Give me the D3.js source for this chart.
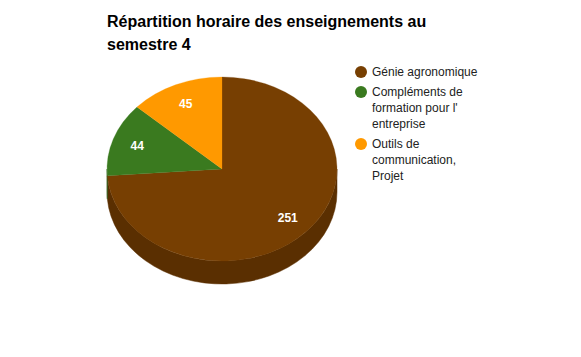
<!DOCTYPE html>
<html><head><meta charset="utf-8">
<script src="https://cdn.jsdelivr.net/npm/d3@7"></script>
<style>body{margin:0;background:#fff}svg{display:block}text{font-family:"Liberation Sans",Arial,sans-serif}</style>
</head><body><svg id="c" width="581" height="357"></svg>
<script>
const categories = ["Génie agronomique", "Compléments de formation pour l' entreprise", "Outils de communication, Projet"];
const values = [251, 44, 45];
const legendLines = [["Génie agronomique"], ["Compléments de", "formation pour l'", "entreprise"], ["Outils de", "communication,", "Projet"]];
const colors = ["#773f02", "#3a7a1f", "#ff9900"];
const sideColors = ["#5a2f01", "#2b5c17", "#bf7300"];
const titleLines = ["Répartition horaire des enseignements au", "semestre 4"];

const svg = d3.select("#c");
const cx = 222, cy = 169, rx = 115, ry = 92, depth = 23;

svg.selectAll("text.title").data(titleLines).join("text")
  .attr("class","title").attr("x",107).attr("y",(d,i)=>27+i*23)
  .attr("font-size",16).attr("font-weight","bold").attr("fill","#000").text(d=>d);

const pie = d3.pie().sort(null).value(d=>d)(values);
const P = a => [cx + rx*Math.sin(a), cy - ry*Math.cos(a)];

// sides (front half: angles between PI/2 and 3PI/2)
const sides = svg.append("g");
pie.forEach((s,i)=>{
  const a0 = Math.max(s.startAngle, Math.PI/2), a1 = Math.min(s.endAngle, 3*Math.PI/2);
  if (a1 <= a0) return;
  const p0 = P(a0), p1 = P(a1);
  const large = (a1-a0) > Math.PI ? 1 : 0;
  const d = `M${p0[0]},${p0[1]} A${rx},${ry} 0 ${large} 1 ${p1[0]},${p1[1]} L${p1[0]},${p1[1]+depth} A${rx},${ry} 0 ${large} 0 ${p0[0]},${p0[1]+depth} Z`;
  sides.append("path").attr("d",d).attr("fill",sideColors[i]).attr("stroke",sideColors[i]).attr("stroke-width",0.5);
});

// top faces
const arc = d3.arc().innerRadius(0).outerRadius(rx);
svg.append("g").attr("transform",`translate(${cx},${cy}) scale(1,${ry/rx})`)
  .selectAll("path").data(pie).join("path")
  .attr("d",arc).attr("fill",(d,i)=>colors[i]).attr("stroke",(d,i)=>colors[i]).attr("stroke-width",0.3);

// labels
const f = 0.78;
svg.selectAll("text.lab").data(pie).join("text").attr("class","lab")
  .attr("x",d=>{const m=(d.startAngle+d.endAngle)/2; return cx + rx*f*Math.sin(m);})
  .attr("y",d=>{const m=(d.startAngle+d.endAngle)/2; return cy - ry*f*Math.cos(m);})
  .attr("dy","0.35em").attr("text-anchor","middle").attr("font-size",12).attr("font-weight","bold")
  .attr("fill","#fff").text(d=>d.value);

// legend
const lg = svg.append("g");
let y = 72;
legendLines.forEach((lines,i)=>{
  lg.append("circle").attr("cx",361).attr("cy",y).attr("r",6).attr("fill",colors[i]);
  lines.forEach((t,j)=>{
    lg.append("text").attr("x",372).attr("y",y+j*16).attr("dy","0.35em").attr("font-size",12).attr("fill","#222").text(t);
  });
  y += (lines.length-1)*16 + 20;
});
</script></body></html>
